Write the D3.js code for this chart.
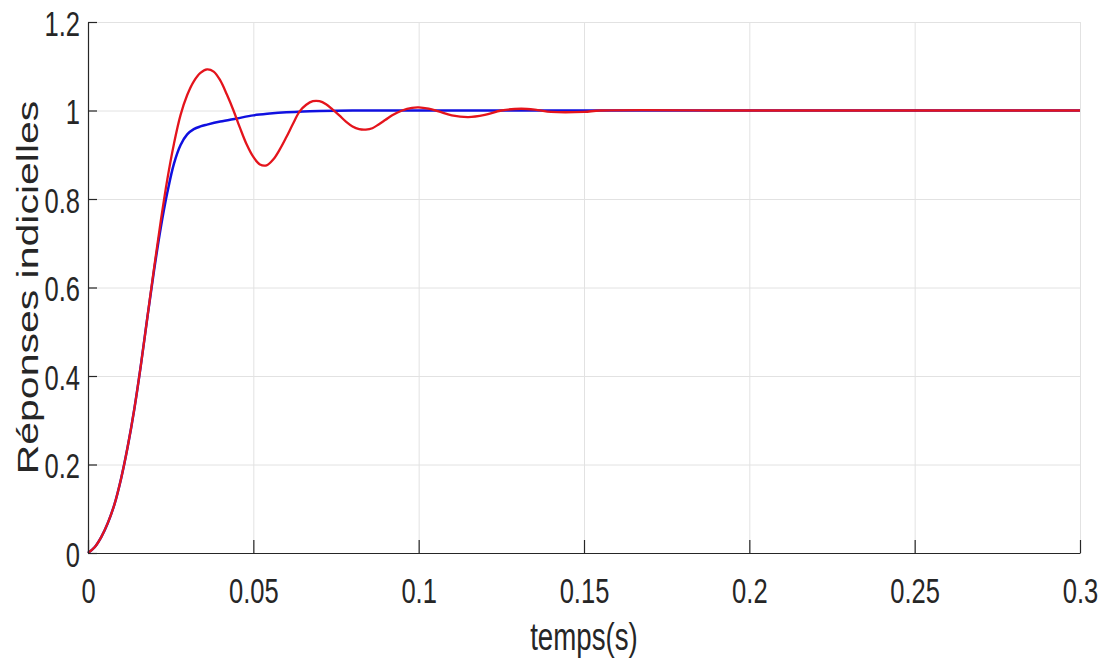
<!DOCTYPE html>
<html>
<head>
<meta charset="utf-8">
<script src="https://cdn.jsdelivr.net/npm/d3@7"></script>
<style>
  html, body { margin: 0; padding: 0; background: #fff; }
  svg { display: block; }
</style>
</head>
<body>
<svg id="chart" width="1105" height="664"></svg>
<script>
// Step responses (time in seconds, normalised output)
const timeRed = [0,0.002,0.004,0.006,0.008,0.010,0.012,0.014,0.016,0.018,
  0.020,0.022,0.024,0.026,0.028,0.030,0.032,0.034,0.036,0.038,
  0.040,0.042,0.044,0.046,0.048,0.050,0.052,0.054,0.056,0.058,
  0.060,0.062,0.064,0.066,0.068,0.070,0.072,0.074,0.076,0.078,
  0.080,0.082,0.084,0.086,0.088,0.090,0.092,0.095,0.098,0.100,
  0.103,0.106,0.110,0.115,0.120,0.125,0.131,0.136,0.140,0.150,
  0.155,0.200,0.250,0.300];
const respRed = [0,0.013,0.036,0.068,0.110,0.168,0.240,0.325,0.425,0.535,
  0.645,0.750,0.845,0.925,0.990,1.035,1.066,1.085,1.093,1.088,
  1.068,1.036,1.000,0.960,0.923,0.895,0.878,0.876,0.889,0.912,
  0.940,0.970,0.998,1.013,1.021,1.021,1.014,1.002,0.989,0.975,
  0.964,0.958,0.957,0.960,0.969,0.979,0.989,1.000,1.006,1.007,
  1.004,0.998,0.989,0.985,0.990,1.000,1.004,1.001,0.997,0.997,
  1.000,1.000,1.000,1.000];

const timeBlue = [0,0.002,0.004,0.006,0.008,0.010,0.012,0.014,0.016,0.018,
  0.020,0.022,0.024,0.026,0.028,0.030,0.032,0.034,0.036,0.040,
  0.045,0.050,0.055,0.060,0.065,0.070,0.080,0.100,0.150,0.200,0.300];
const respBlue = [0,0.013,0.036,0.068,0.110,0.168,0.240,0.325,0.425,0.535,
  0.640,0.735,0.815,0.880,0.922,0.946,0.958,0.964,0.968,0.975,
  0.982,0.989,0.993,0.996,0.998,0.999,1.000,1.000,1.000,1.000,1.000];

const xTicks = [0,0.05,0.1,0.15,0.2,0.25,0.3];
const xTickLabels = ["0","0.05","0.1","0.15","0.2","0.25","0.3"];
const yTicks = [0,0.2,0.4,0.6,0.8,1,1.2];
const yTickLabels = ["0","0.2","0.4","0.6","0.8","1","1.2"];
const xLabel = "temps(s)";
const yLabel = "Réponses indicielles";

const FONT = '"Liberation Sans", Arial, Helvetica, sans-serif';
const INK = "#262626";
const GRID = "#e2e2e2";
const NARROW = 0.71;   // condensed glyph width

const svg = d3.select("#chart");
const plotLeft = 88, plotRight = 1080, plotTop = 22, plotBottom = 553;

const x = d3.scaleLinear().domain([0, 0.3]).range([plotLeft, plotRight]);
const y = d3.scaleLinear().domain([0, 1.2]).range([plotBottom, plotTop]);

// grid
const gx = svg.append("g").attr("transform", `translate(0,${plotBottom})`)
  .call(d3.axisBottom(x).tickValues(xTicks).tickSize(-(plotBottom - plotTop)).tickFormat(""));
gx.select(".domain").remove();
gx.selectAll("line").attr("stroke", GRID).attr("stroke-width", 1);

const gy = svg.append("g").attr("transform", `translate(${plotLeft},0)`)
  .call(d3.axisLeft(y).tickValues(yTicks).tickSize(-(plotRight - plotLeft)).tickFormat(""));
gy.select(".domain").remove();
gy.selectAll("line").attr("stroke", GRID).attr("stroke-width", 1);

// curves
const line = d3.line()
  .x(d => x(d[0]))
  .y(d => y(d[1]))
  .curve(d3.curveCatmullRom.alpha(0.5));

const blueData = timeBlue.map((t, i) => [t, respBlue[i]]);
const redData = timeRed.map((t, i) => [t, respRed[i]]);

svg.append("path").datum(blueData)
  .attr("d", line).attr("fill", "none")
  .attr("stroke", "#1010e0").attr("stroke-width", 2.5)
  .attr("stroke-linejoin", "round");

svg.append("path").datum(redData)
  .attr("d", line).attr("fill", "none")
  .attr("stroke", "#e4141c").attr("stroke-width", 2.3)
  .attr("stroke-linejoin", "round");

// axes
const ax = svg.append("g").attr("transform", `translate(0,${plotBottom})`)
  .call(d3.axisBottom(x).tickValues(xTicks)
    .tickSizeInner(-13).tickSizeOuter(0).tickPadding(24)
    .tickFormat((d, i) => xTickLabels[i]));
ax.attr("font-family", FONT).attr("font-size", 36);
ax.selectAll("line, path").attr("stroke", INK).attr("stroke-width", 1.2);
ax.selectAll("text").attr("fill", INK).attr("transform", `scale(${NARROW},1)`);

const ay = svg.append("g").attr("transform", `translate(${plotLeft},0)`)
  .call(d3.axisLeft(y).tickValues(yTicks)
    .tickSizeInner(-9).tickSizeOuter(0).tickPadding(8)
    .tickFormat((d, i) => yTickLabels[i]));
ay.attr("font-family", FONT).attr("font-size", 36);
ay.selectAll("line, path").attr("stroke", INK).attr("stroke-width", 1.2);
ay.selectAll("text").attr("fill", INK)
  .attr("x", -8 / NARROW).attr("dy", "0.37em")
  .attr("transform", `scale(${NARROW},1)`);

// axis titles
svg.append("g")
  .attr("transform", `translate(${(plotLeft + plotRight) / 2},650) scale(${NARROW},1)`)
  .append("text")
  .attr("text-anchor", "middle")
  .attr("font-family", FONT).attr("font-size", 39).attr("fill", INK)
  .text(xLabel);

svg.append("g")
  .attr("transform", `translate(38,${(plotTop + plotBottom) / 2}) scale(${NARROW},1) rotate(-90)`)
  .append("text")
  .attr("text-anchor", "middle")
  .attr("font-family", FONT).attr("font-size", 41).attr("fill", INK)
  .text(yLabel);
</script>
</body>
</html>
